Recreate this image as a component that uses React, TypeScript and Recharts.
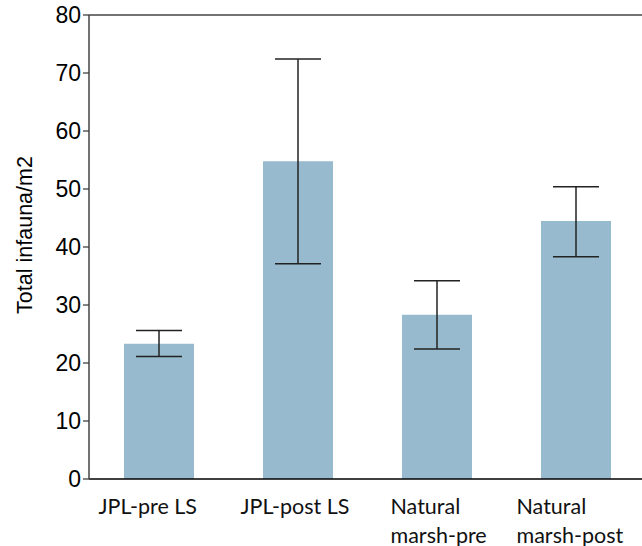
import React from "react";
import { BarChart, Bar, XAxis, YAxis, ErrorBar, ReferenceLine } from "recharts";

const categories = ["JPL-pre LS", "JPL-post LS", "Natural marsh-pre", "Natural marsh-post"];
const labelLines = [["JPL-pre LS"], ["JPL-post LS"], ["Natural", "marsh-pre"], ["Natural", "marsh-post"]];
const means = [23.3, 54.8, 28.3, 44.5];
const lows = [21.1, 37.1, 22.4, 38.3];
const highs = [25.6, 72.4, 34.2, 50.4];
const yTicks = [0, 10, 20, 30, 40, 50, 60, 70, 80];

const data = categories.map((c, i) => ({
  name: c,
  idx: i,
  value: means[i],
  err: [means[i] - lows[i], highs[i] - means[i]],
}));

const labelDx = [-60, -57, -46, -59];

const XTick = (props: any) => {
  const { x, y, payload, index } = props;
  const lines = labelLines[index] || [payload.value];
  const startX = x + labelDx[index];
  return (
    <g>
      {lines.map((l: string, k: number) => (
        <text
          key={k}
          x={startX}
          y={y + 27 + k * 29}
          textAnchor="start"
          fontFamily="Lato, 'Open Sans', sans-serif"
          fontSize={21.5}
          fill="#111"
        >
          {l}
        </text>
      ))}
    </g>
  );
};

const YTick = (props: any) => {
  const { x, y, payload } = props;
  return (
    <text
      x={x}
      y={y}
      dy={8}
      textAnchor="end"
      fontFamily="Liberation Sans, Arial, sans-serif"
      fontSize={23}
      fill="#000"
    >
      {payload.value}
    </text>
  );
};

const YLabel = (props: any) => {
  const { viewBox } = props;
  const cy = viewBox.y + viewBox.height / 2 - 12;
  return (
    <text
      x={32}
      y={cy}
      transform={`rotate(-90, 32, ${cy})`}
      textAnchor="middle"
      fontFamily="Liberation Sans, Arial, sans-serif"
      fontSize={21.5}
      fill="#000"
    >
      Total infauna/m2
    </text>
  );
};

export default function App() {
  return (
    <div style={{ position: "absolute", left: 0, top: 0, width: 642, height: 546, overflow: "hidden", background: "#fff" }}>
      <BarChart
        width={645}
        height={546}
        data={data}
        margin={{ top: 15, right: 0, left: 0, bottom: 0 }}
      >
        <XAxis
          dataKey="name"
          tickLine={false}
          axisLine={{ stroke: "#000", strokeWidth: 1.5 }}
          tick={<XTick />}
          interval={0}
          height={67}
        />
        <YAxis
          domain={[0, 80]}
          ticks={yTicks}
          width={89}
          tickSize={6}
          tickLine={{ stroke: "#333", strokeWidth: 1.2 }}
          axisLine={{ stroke: "#444", strokeWidth: 1.5 }}
          tick={<YTick />}
          interval={0}
          label={<YLabel />}
        />
        <ReferenceLine y={80} stroke="#444" strokeWidth={1.5} ifOverflow="visible" />
        <Bar dataKey="value" fill="#97BACE" barSize={70} isAnimationActive={false}>
          <ErrorBar dataKey="err" width={23} stroke="#222" strokeWidth={1.5} direction="y" />
        </Bar>
      </BarChart>
    </div>
  );
}
